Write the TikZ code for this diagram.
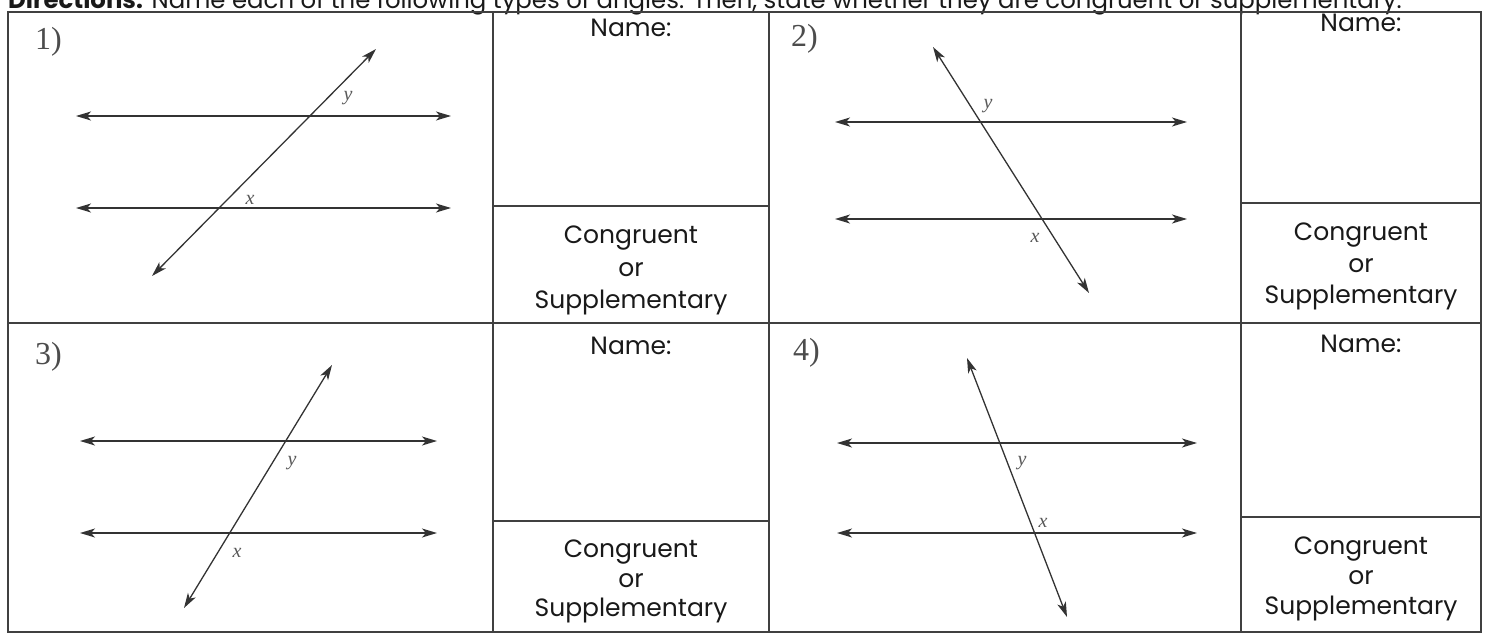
\documentclass[tikz,border=0pt]{standalone}
\usepackage{fontspec}
\setmainfont{Poppins}
\newfontfamily\serifnum{Liberation Serif}
\usetikzlibrary{arrows.meta}
\begin{document}
\begin{tikzpicture}[x=1pt,y=-1pt,
  grid/.style={line width=1.4pt, draw=black!75},
  ray/.style={line width=1.3pt, draw=black!80, {Stealth[length=15pt,width=9pt,inset=4pt]}-{Stealth[length=15pt,width=9pt,inset=4pt]}},
  lbl/.style={font=\serifnum\itshape\fontsize{20}{20}\selectfont, text=black!65, inner sep=0pt},
  num/.style={font=\serifnum\fontsize{32}{32}\selectfont, text=black!70, anchor=base west, inner sep=0pt},
  txt/.style={font=\fontsize{25}{25}\selectfont, text=black!90, anchor=base, inner sep=0pt}]
\useasboundingbox (0,0) rectangle (1486,634);
% header
\node[anchor=base west, inner sep=0pt, font=\fontsize{24.4}{24.4}\selectfont, text=black!90] (hdr) at (8,9)
  {\textbf{Directions:} Name each of the following types of angles. Then, state whether they are congruent or supplementary.};
% grid
\draw[grid] (8,12) rectangle (1481,632);
\draw[grid] (493,12) -- (493,632);
\draw[grid] (769,12) -- (769,632);
\draw[grid] (1241,12) -- (1241,632);
\draw[grid] (8,323) -- (1481,323);
\draw[grid] (493,206) -- (769,206);
\draw[grid] (1241,203) -- (1481,203);
\draw[grid] (493,521) -- (769,521);
\draw[grid] (1241,517) -- (1481,517);
% answer texts
\node[txt] (n1) at (631,37) {Name:};
\node[txt] (c1) at (631,243) {Congruent};
\node[txt] (o1) at (631,276) {or};
\node[txt] (s1) at (631,308) {Supplementary};
\node[txt] (n2) at (1361,32) {Name:};
\node[txt] (c2) at (1361,240) {Congruent};
\node[txt] (o2) at (1361,272) {or};
\node[txt] (s2) at (1361,303) {Supplementary};
\node[txt] (n3) at (631,354) {Name:};
\node[txt] (c3) at (631,557) {Congruent};
\node[txt] (o3) at (631,587) {or};
\node[txt] (s3) at (631,616) {Supplementary};
\node[txt] (n4) at (1361,352) {Name:};
\node[txt] (c4) at (1361,554) {Congruent};
\node[txt] (o4) at (1361,584) {or};
\node[txt] (s4) at (1361,614) {Supplementary};
% numbers
\node[num] (k1) at (35,49) {1)};
\node[num] (k2) at (791,47) {2)};
\node[num] (k3) at (35,364) {3)};
\node[num] (k4) at (793,360) {4)};
% panel 1
\coordinate (p1a1) at (76,116); \coordinate (p1a2) at (451,116);
\coordinate (p1b1) at (76,208); \coordinate (p1b2) at (451,208);
\coordinate (p1t1) at (152,276); \coordinate (p1t2) at (376,49);
\draw[ray] (p1a1) -- (p1a2);
\draw[ray] (p1b1) -- (p1b2);
\draw[ray] (p1t1) -- (p1t2);
\node[lbl] (y1) at (348,98) {y};
\node[lbl] (x1) at (250,200) {x};
% panel 2
\coordinate (p2a1) at (835,122); \coordinate (p2a2) at (1187,122);
\coordinate (p2b1) at (835,219); \coordinate (p2b2) at (1187,219);
\coordinate (p2t1) at (933,47); \coordinate (p2t2) at (1089,293);
\draw[ray] (p2a1) -- (p2a2);
\draw[ray] (p2b1) -- (p2b2);
\draw[ray] (p2t1) -- (p2t2);
\node[lbl] (y2) at (988,106) {y};
\node[lbl] (x2) at (1035,238) {x};
% panel 3
\coordinate (p3a1) at (80,441); \coordinate (p3a2) at (437,441);
\coordinate (p3b1) at (80,533); \coordinate (p3b2) at (437,533);
\coordinate (p3t1) at (184,608); \coordinate (p3t2) at (332,365);
\draw[ray] (p3a1) -- (p3a2);
\draw[ray] (p3b1) -- (p3b2);
\draw[ray] (p3t1) -- (p3t2);
\node[lbl] (y3) at (292,463) {y};
\node[lbl] (x3) at (237,553) {x};
% panel 4
\coordinate (p4a1) at (837,443); \coordinate (p4a2) at (1197,443);
\coordinate (p4b1) at (837,533); \coordinate (p4b2) at (1197,533);
\coordinate (p4t1) at (967,358); \coordinate (p4t2) at (1067,617);
\draw[ray] (p4a1) -- (p4a2);
\draw[ray] (p4b1) -- (p4b2);
\draw[ray] (p4t1) -- (p4t2);
\node[lbl] (y4) at (1022,463) {y};
\node[lbl] (x4) at (1043,523) {x};
\end{tikzpicture}
\end{document}
